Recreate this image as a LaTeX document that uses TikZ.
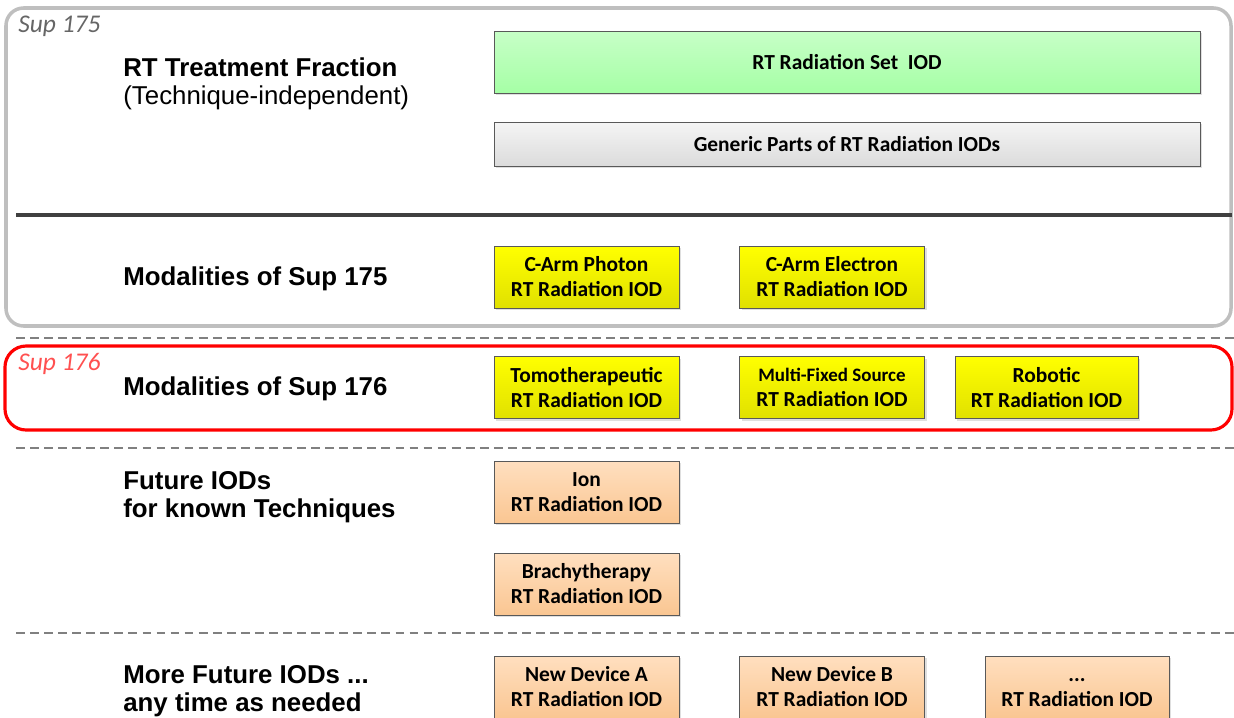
\documentclass[tikz,border=0pt]{standalone}
\usepackage{fontspec}
\setmainfont{Liberation Sans}
\newfontfamily\boxfont{Carlito}
\usetikzlibrary{shadows}
\definecolor{frame175}{HTML}{BFBFBF}
\definecolor{sep}{HTML}{404040}
\definecolor{red176}{HTML}{FF0000}
\definecolor{supgray}{HTML}{666666}
\definecolor{supred}{HTML}{FF5050}
\tikzstyle{iod}=[draw=black!65,line width=0.5pt,minimum width=3.7cm,minimum height=1.24cm,
  align=center,inner sep=1pt,font=\boxfont\bfseries\fontsize{12.2}{14.2}\selectfont,
  drop shadow={opacity=0.25,shadow xshift=1.2pt,shadow yshift=-1.2pt}]
\tikzstyle{yellowiod}=[iod,top color=yellow,bottom color=yellow!88!black]
\tikzstyle{futureiod}=[iod,top color=orange!25!white,bottom color=orange!40!white!92!brown]
\tikzstyle{rowlabel}=[anchor=west,align=left,inner sep=0pt,font=\bfseries\fontsize{14.7}{16}\selectfont]
\tikzstyle{suplabel}=[anchor=west,inner sep=0pt,font=\boxfont\itshape\fontsize{14.5}{16}\selectfont]
\tikzstyle{rowsep}=[gray,dashed,line width=0.6pt,dash pattern=on 5pt off 3pt]

\begin{document}
\begin{tikzpicture}[x=0.02cm,y=-0.02cm]
    \useasboundingbox (0,0) rectangle (1234,717);
    % frames
    \draw [frame175,line width=2pt,rounded corners=10pt] (6,8) rectangle (1231,326);
    \draw [sep,line width=1.8pt] (16,215) -- (1232,215);
    \draw [rowsep] (16,338) -- (1234,338);
    \draw [red176,line width=1.8pt,rounded corners=12pt] (5,346) rectangle (1232,430);
    \draw [rowsep] (16,448) -- (1234,448);
    \draw [rowsep] (16,633) -- (1234,633);
    % labels
    \node [suplabel,text=supgray] (s175) at (18,26) {Sup 175};
    \node [suplabel,text=supred] (s176) at (18,364) {Sup 176};
    \node [rowlabel] (fraction) at (123,67) {RT Treatment Fraction};
    \node [rowlabel,font=\fontsize{14.7}{16}\selectfont] (indep) at (123,98) {(Technique-independent)};
    \node [rowlabel] (mod175) at (123,279) {Modalities of Sup 175};
    \node [rowlabel] (mod176) at (123,389) {Modalities of Sup 176};
    \node [rowlabel,font=\bfseries\fontsize{14.7}{16}\selectfont] (future) at (123,497) {Future IODs\\for known Techniques};
    \node [rowlabel,font=\bfseries\fontsize{14.7}{16}\selectfont] (more) at (123,691) {More Future IODs ...\\any time as needed};
    % boxes
    \node [iod,top color=green!22!white,bottom color=green!35!white,minimum width=14.12cm] (radset) at (847,62) {RT Radiation Set\ \ IOD};
    \node [iod,top color=gray!8,bottom color=gray!28,minimum width=14.12cm,minimum height=0.88cm] (generic) at (847,144) {Generic Parts of RT Radiation IODs};
    \node [yellowiod] (photon) at (586.5,277) {C-Arm Photon\\RT Radiation IOD};
    \node [yellowiod] (electron) at (832,277) {C-Arm Electron\\RT Radiation IOD};
    \node [yellowiod] (tomo) at (586.5,387.5) {Tomotherapeutic\\RT Radiation IOD};
    \node [yellowiod] (multi) at (832,387.5) {{\fontsize{10.8}{12}\selectfont Multi-Fixed Source}\\RT Radiation IOD};
    \node [yellowiod,minimum width=3.66cm] (robotic) at (1046.5,387.5) {Robotic\\RT Radiation IOD};
    \node [futureiod] (ion) at (586.5,492) {Ion\\RT Radiation IOD};
    \node [futureiod] (brachy) at (586.5,584) {Brachytherapy\\RT Radiation IOD};
    \node [futureiod] (deva) at (586.5,687) {New Device A\\RT Radiation IOD};
    \node [futureiod] (devb) at (832,687) {New Device B\\RT Radiation IOD};
    \node [futureiod,minimum width=3.68cm] (devdots) at (1077,687) {\vphantom{N}...\\RT Radiation IOD};
\end{tikzpicture}
\end{document}
